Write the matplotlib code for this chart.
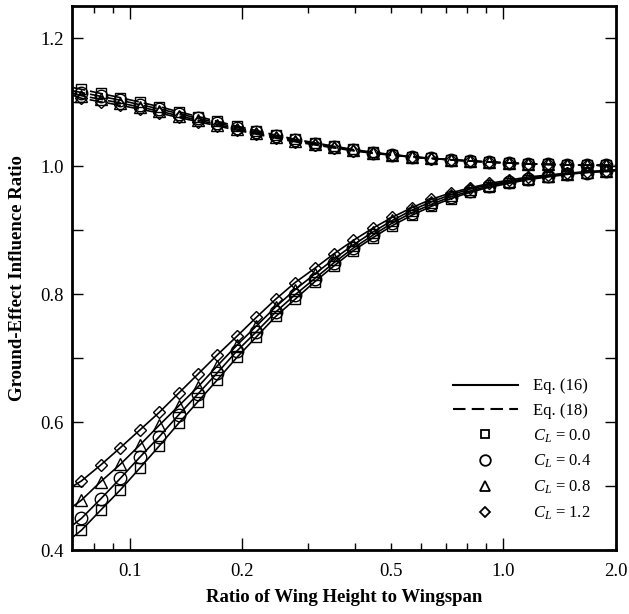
import matplotlib
matplotlib.use('Agg')
import matplotlib.pyplot as plt
from matplotlib.ticker import FixedLocator, FixedFormatter

plt.rcParams['font.family'] = ['Liberation Serif', 'DejaVu Serif']
plt.rcParams['mathtext.fontset'] = 'custom'
plt.rcParams['mathtext.rm'] = 'Liberation Serif'
plt.rcParams['mathtext.it'] = 'Liberation Serif:italic'

# wing height / wingspan (first and last entries are line ends only, no marker)
h_b = [0.07, 0.0742, 0.0836, 0.0943, 0.1063, 0.1198, 0.1350, 0.1522, 0.1715,
       0.1934, 0.2180, 0.2457, 0.2770, 0.3122, 0.3519, 0.3967, 0.4472,
       0.5041, 0.5682, 0.6405, 0.7220, 0.8138, 0.9173, 1.034, 1.166, 1.314,
       1.481, 1.670, 1.882, 2.0]

cl_labels = ['$C_L$ = 0.0', '$C_L$ = 0.4', '$C_L$ = 0.8', '$C_L$ = 1.2']
markers = ['s', 'o', '^', 'D']
msizes = [7, 9, 8, 6]

# Eq. (16), lower family
eq16 = [
    [0.419, 0.431, 0.4625, 0.494, 0.528, 0.5625, 0.598, 0.632, 0.666, 0.701, 0.733,
     0.765, 0.792, 0.819, 0.844, 0.868, 0.888, 0.907, 0.923, 0.937, 0.949, 0.959,
     0.967, 0.973, 0.979, 0.983, 0.987, 0.990, 0.992, 0.993],
    [0.438, 0.4495, 0.480, 0.512, 0.545, 0.577, 0.611, 0.644, 0.677, 0.711, 0.741,
     0.772, 0.799, 0.824, 0.849, 0.872, 0.892, 0.911, 0.927, 0.940, 0.952, 0.961,
     0.969, 0.975, 0.980, 0.984, 0.988, 0.990, 0.992, 0.993],
    [0.467, 0.478, 0.507, 0.534, 0.564, 0.595, 0.625, 0.655, 0.688, 0.720, 0.750,
     0.780, 0.807, 0.831, 0.855, 0.877, 0.897, 0.915, 0.931, 0.944, 0.955, 0.964,
     0.971, 0.976, 0.981, 0.985, 0.988, 0.991, 0.993, 0.994],
    [0.499, 0.508, 0.533, 0.560, 0.5875, 0.615, 0.645, 0.675, 0.705, 0.734, 0.7635,
     0.792, 0.818, 0.840, 0.863, 0.884, 0.903, 0.920, 0.935, 0.948, 0.958, 0.966,
     0.973, 0.978, 0.983, 0.986, 0.989, 0.991, 0.993, 0.994],
]

# Eq. (18), upper family
eq18 = [
    [1.123, 1.120, 1.1135, 1.107, 1.100, 1.093, 1.085, 1.0775, 1.070, 1.0625, 1.0555,
     1.0485, 1.042, 1.0365, 1.031, 1.026, 1.0215, 1.018, 1.0148, 1.0122, 1.0100,
     1.0080, 1.0063, 1.0048, 1.0036, 1.0027, 1.0020, 1.0015, 1.0011, 1.0008],
    [1.118, 1.115, 1.109, 1.103, 1.096, 1.0895, 1.082, 1.0747, 1.0675, 1.0603, 1.0535,
     1.0468, 1.0406, 1.0353, 1.0301, 1.0253, 1.0210, 1.0177, 1.0146, 1.0121, 1.0099,
     1.0080, 1.0063, 1.0048, 1.0036, 1.0027, 1.0020, 1.0015, 1.0011, 1.0008],
    [1.114, 1.110, 1.1044, 1.0986, 1.0923, 1.086, 1.0787, 1.0719, 1.065, 1.0580, 1.0516,
     1.0451, 1.0392, 1.0342, 1.0292, 1.0246, 1.0205, 1.0173, 1.0143, 1.0119, 1.0099,
     1.0080, 1.0063, 1.0048, 1.0036, 1.0027, 1.0020, 1.0015, 1.0011, 1.0008],
    [1.111, 1.106, 1.1005, 1.095, 1.089, 1.083, 1.076, 1.0695, 1.0628, 1.0561, 1.0499,
     1.0437, 1.038, 1.0332, 1.0284, 1.024, 1.020, 1.017, 1.0141, 1.0118, 1.0098,
     1.0080, 1.0063, 1.0048, 1.0036, 1.0027, 1.0020, 1.0015, 1.0011, 1.0008],
]

fig = plt.figure(figsize=(6.29, 6.14), dpi=100)
ax = fig.add_axes([0.1145, 0.1042, 0.8645, 0.8858])

lw = 1.2
for i in range(4):
    ax.plot(h_b, eq16[i], '-', c='k', lw=lw, marker=markers[i], ms=msizes[i],
            mfc='none', mec='k', mew=1.0, markevery=slice(1, -1))
    ax.plot(h_b, eq18[i], '--', c='k', lw=lw, dashes=(8, 3), marker=markers[i],
            ms=msizes[i], mfc='none', mec='k', mew=1.0, markevery=slice(1, -1))

# legend handles
handles = []
handles.append(ax.plot([], [], '-', c='k', lw=1.5)[0])
handles.append(ax.plot([], [], '--', c='k', lw=1.5, dashes=(6, 3))[0])
for i in range(4):
    handles.append(ax.plot([], [], ls='none', marker=markers[i], ms=msizes[i] * 0.85,
                           mfc='none', mec='k', mew=1.3)[0])
labels = ['Eq. (16)', 'Eq. (18)'] + cl_labels
ax.legend(handles, labels, loc='lower left', bbox_to_anchor=(0.70, 0.052),
          frameon=False, fontsize=12, handlelength=3.9, handletextpad=0.95,
          labelspacing=0.5, borderpad=0, borderaxespad=0)

ax.set_xscale('log')
ax.set_xlim(0.07, 2.0)
ax.set_ylim(0.4, 1.25)

ax.xaxis.set_major_locator(FixedLocator([0.1, 0.2, 1.0]))
ax.xaxis.set_major_formatter(FixedFormatter(['0.1', '0.2', '1.0']))
minor_x = [0.08, 0.09, 0.3, 0.4, 0.5, 0.6, 0.7, 0.8, 0.9, 2.0]
ax.xaxis.set_minor_locator(FixedLocator(minor_x))
ax.xaxis.set_minor_formatter(FixedFormatter(['', '', '', '', '0.5', '', '', '', '', '2.0']))

ax.set_yticks([0.4, 0.6, 0.8, 1.0, 1.2])
ax.set_yticklabels(['0.4', '0.6', '0.8', '1.0', '1.2'])
ax.set_yticks([0.5, 0.7, 0.9, 1.1], minor=True)

ax.tick_params(which='both', direction='in', top=True, right=True,
               labelsize=13.5, width=1.0)
ax.tick_params(axis='x', which='both', pad=9)
ax.tick_params(axis='y', which='both', pad=6)
ax.tick_params(axis='x', which='major', length=9)
ax.tick_params(axis='x', which='minor', length=5)
ax.tick_params(axis='y', which='both', length=8)

for s in ax.spines.values():
    s.set_linewidth(2)

ax.set_xlabel('Ratio of Wing Height to Wingspan', fontsize=13.5, fontweight='bold')
ax.set_ylabel('Ground-Effect Influence Ratio', fontsize=13.5, fontweight='bold')
ax.xaxis.set_label_coords(0.5, -0.072)
ax.yaxis.set_label_coords(-0.084, 0.5)

fig.savefig('out.png', dpi=100)
